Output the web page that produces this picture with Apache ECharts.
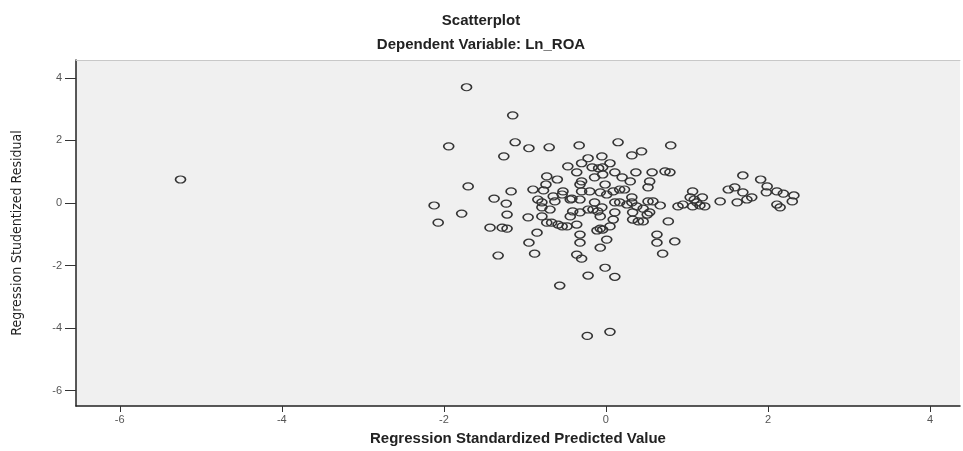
<!DOCTYPE html>
<html>
<head>
<meta charset="utf-8">
<script src="https://cdn.jsdelivr.net/npm/echarts@6/dist/echarts.min.js"></script>
<style>html,body{margin:0;padding:0;background:#fff}#c{width:963px;height:451px}</style>
</head>
<body>
<div id="c"></div>
<script>
const chartTitle = "Scatterplot";
const chartSubtitle = "Dependent Variable: Ln_ROA";
const xAxisTitle = "Regression Standardized Predicted Value";
const yAxisTitle = "Regression Studentized Residual";
const xTicks = [-6, -4, -2, 0, 2, 4];
const yTicks = [-6, -4, -2, 0, 2, 4];
const predicted = [
 -5.25,-1.72,-1.15,-1.94,-1.12,-0.95,-0.70,-1.26,-0.33,0.15,0.44,0.32,0.80,-1.70,-2.12,-2.07,-1.78,-1.38,-1.17,-1.23,
 -1.22,-1.43,-1.28,-1.22,-1.33,-0.95,-0.88,-0.85,-0.57,-0.22,-0.01,0.11,-0.23,0.05,-0.96,-0.79,-0.73,-0.59,-0.48,-0.36,
 -0.32,-0.32,-0.36,-0.30,-0.07,-0.07,0.01,-0.04,-0.16,-0.44,-0.63,-0.79,-0.84,-0.32,-0.41,-0.69,0.77,0.63,0.63,0.85,
 0.70,0.40,0.46,0.33,0.54,0.11,0.11,0.32,0.58,0.95,1.12,1.41,1.62,0.09,-0.73,-0.60,-0.74,-0.90,-0.77,-0.47,
 -0.30,-0.22,-0.05,-0.17,-0.36,-0.30,-0.14,-0.04,-0.79,-0.53,-0.44,-0.30,0.05,0.11,0.37,0.57,0.73,0.79,0.54,0.52,
 0.30,0.23,-0.04,-0.01,0.09,0.32,0.67,1.07,1.04,1.19,1.51,1.59,0.01,0.17,1.69,1.69,1.80,1.74,1.91,1.99,
 1.98,2.11,2.19,2.32,2.30,2.11,2.15,1.16,1.22,1.09,1.07,0.46,0.51,0.89,0.17,-0.32,-0.54,-0.42,-0.20,-0.07,
 0.26,0.38,0.52,-0.07,0.33,-0.65,-0.09,-0.11,0.05,-0.32,-0.10,-0.05,-0.22,-0.14,-0.54,-0.67,0.20
];
const residual = [
 0.75,3.70,2.80,1.81,1.94,1.75,1.78,1.49,1.84,1.94,1.65,1.52,1.84,0.53,-0.08,-0.63,-0.34,0.14,0.37,-0.02,
 -0.37,-0.79,-0.79,-0.82,-1.68,-1.27,-1.62,-0.95,-2.64,-2.32,-2.07,-2.36,-4.25,-4.12,-0.46,-0.43,-0.63,-0.69,-0.75,-0.69,
 -1.01,-1.27,-1.65,-1.78,-0.82,-1.43,-1.17,-0.85,-0.21,-0.43,0.05,-0.14,0.11,0.11,-0.27,-0.21,-0.59,-1.01,-1.27,-1.23,
 -1.62,-0.59,-0.59,-0.30,-0.30,-0.30,0.02,0.02,0.05,-0.05,0.02,0.05,0.02,-0.53,0.85,0.75,0.59,0.43,0.40,1.17,
 1.27,1.43,1.49,1.14,0.98,0.69,0.82,1.14,0.02,0.37,0.11,0.37,1.27,0.98,0.98,0.98,1.01,0.98,0.69,0.50,
 0.69,0.43,0.91,0.59,0.37,0.18,-0.08,0.37,0.18,0.18,0.43,0.50,0.27,0.02,0.88,0.34,0.18,0.11,0.75,0.53,
 0.34,0.37,0.30,0.24,0.05,-0.05,-0.14,-0.08,-0.11,0.11,-0.11,-0.18,-0.37,-0.11,0.43,0.59,0.27,0.14,0.37,0.34,
 -0.05,-0.11,0.05,-0.43,-0.53,0.21,1.11,-0.88,-0.75,-0.30,-0.27,-0.14,-0.21,0.02,-0.75,-0.63,0.82
];

const points = predicted.map((x, i) => [x, residual[i]]);
const chart = echarts.init(document.getElementById('c'), null, {renderer: 'canvas'});
const labelStyle = {color: '#555', fontSize: 11, fontFamily: 'Liberation Sans, Arial, sans-serif'};
chart.setOption({
  animation: false,
  backgroundColor: '#fff',
  title: [
    {text: chartTitle, left: 476, top: 8, textAlign: 'center',
     textStyle: {fontSize: 15, fontWeight: 'bold', color: '#222', fontFamily: 'Liberation Sans, Arial, sans-serif'}},
    {text: chartSubtitle, left: 476, top: 32, textAlign: 'center',
     textStyle: {fontSize: 15, fontWeight: 'bold', color: '#222', fontFamily: 'Liberation Sans, Arial, sans-serif'}}
  ],
  grid: {left: 76, right: 3, top: 60, bottom: 45, show: true, backgroundColor: '#f0f0f0', borderWidth: 0},
  xAxis: [{
    type: 'value', min: -6.54, max: 4.37, position: 'bottom',
    splitLine: {show: false},
    axisLine: {show: true, onZero: false, lineStyle: {color: '#222', width: 1.5}},
    axisTick: {show: true, inside: false, length: 6, customValues: xTicks, lineStyle: {color: '#333'}},
    axisLabel: Object.assign({customValues: xTicks, margin: 8}, labelStyle),
    name: xAxisTitle, nameLocation: 'middle', nameGap: 25,
    nameTextStyle: {fontSize: 15, fontWeight: 'bold', color: '#222', fontFamily: 'Liberation Sans, Arial, sans-serif'}
  }, {
    type: 'value', min: -6.54, max: 4.37, position: 'top',
    splitLine: {show: false},
    axisLine: {show: true, onZero: false, lineStyle: {color: '#c8c8c8', width: 1}},
    axisTick: {show: false}, axisLabel: {show: false}
  }],
  yAxis: {
    type: 'value', min: -6.49, max: 4.57,
    splitLine: {show: false},
    axisLine: {show: true, onZero: false, lineStyle: {color: '#222', width: 1.5}},
    axisTick: {show: true, inside: false, length: 11, customValues: yTicks, lineStyle: {color: '#333'}},
    axisLabel: Object.assign({customValues: yTicks, margin: 14}, labelStyle),
    name: yAxisTitle, nameLocation: 'middle', nameGap: 52, nameRotate: 90,
    nameTextStyle: {fontSize: 14, color: '#222', fontFamily: 'Liberation Sans Narrow, Arial Narrow, DejaVu Sans Condensed, sans-serif'}
  },
  series: [{
    type: 'scatter',
    xAxisIndex: 0,
    data: points,
    symbol: 'circle',
    symbolSize: [10, 7],
    itemStyle: {color: 'rgba(0,0,0,0)', borderColor: '#333', borderWidth: 1.4, opacity: 1}
  }]
});
</script>
</body>
</html>
